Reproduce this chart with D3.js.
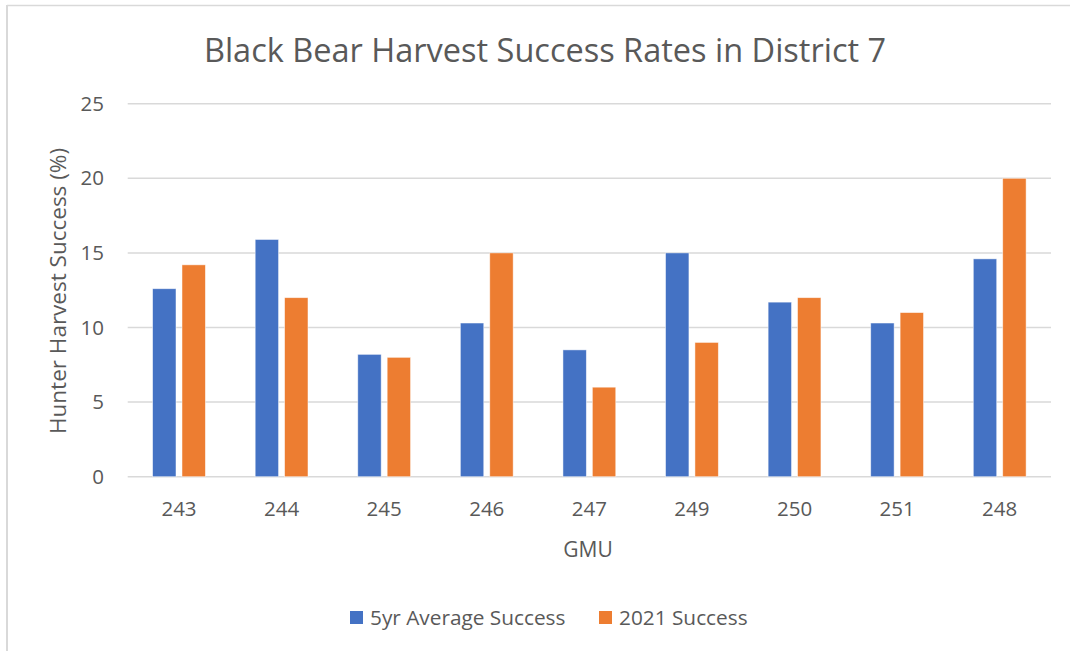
<!DOCTYPE html>
<html>
<head>
<meta charset="utf-8">
<script src="https://cdn.jsdelivr.net/npm/d3@7"></script>
<style>
  body { margin: 0; background: #fff; }
  text { font-family: "Open Sans", sans-serif; fill: #595959; }
</style>
</head>
<body>
<div id="chart"></div>
<script>
// GMU categories in the order shown
const gmus = ["243", "244", "245", "246", "247", "249", "250", "251", "248"];
const avgSuccess = [12.6, 15.9, 8.2, 10.3, 8.5, 15.0, 11.7, 10.3, 14.6];
const success2021 = [14.2, 12.0, 8.0, 15.0, 6.0, 9.0, 12.0, 11.0, 20.0];
const seriesNames = ["5yr Average Success", "2021 Success"];
const seriesColors = ["#4472C4", "#ED7D31"];
const yTicks = [0, 5, 10, 15, 20, 25];

const width = 1070, height = 651;
const margin = {top: 103.7, right: 19, bottom: 174.3, left: 127.7};

let svg = d3.select("#chart").append("svg")
    .attr("width", width)
    .attr("height", height);

// chart area border (top and left edges visible)
svg.append("line").attr("x1", 7).attr("x2", width).attr("y1", 5.5).attr("y2", 5.5)
    .attr("stroke", "#d9d9d9").attr("stroke-width", 1.5);
svg.append("line").attr("x1", 7).attr("x2", 7).attr("y1", 5).attr("y2", height)
    .attr("stroke", "#d9d9d9").attr("stroke-width", 2);

let x0 = d3.scaleBand()
    .domain(gmus)
    .range([margin.left, width - margin.right]);

let y = d3.scaleLinear()
    .domain([0, 25])
    .range([height - margin.bottom, margin.top]);

// gridlines
svg.append("g")
    .selectAll("line")
    .data(yTicks)
    .join("line")
    .attr("x1", margin.left)
    .attr("x2", width - margin.right)
    .attr("y1", d => y(d))
    .attr("y2", d => y(d))
    .attr("stroke", "#d9d9d9")
    .attr("stroke-width", 1.5);

// y tick labels
svg.append("g")
    .selectAll("text")
    .data(yTicks)
    .join("text")
    .attr("x", 104)
    .attr("y", d => y(d))
    .attr("dy", "0.35em")
    .attr("text-anchor", "end")
    .style("font-size", "20.5px")
    .text(d => d);

// bars
const barW = 23.4, gap = 6;
const series = [avgSuccess, success2021];
series.forEach((vals, s) => {
  svg.append("g")
    .selectAll("rect")
    .data(gmus)
    .join("rect")
    .attr("x", (g, i) => x0(g) + x0.bandwidth() / 2 + (s === 0 ? -gap / 2 - barW : gap / 2))
    .attr("y", (g, i) => y(series[s][i]))
    .attr("width", barW)
    .attr("height", (g, i) => y(0) - y(series[s][i]))
    .attr("fill", seriesColors[s])
    .attr("stroke", "#fff")
    .attr("stroke-opacity", 0.6)
    .attr("stroke-width", 0.8);
});

// x labels
svg.append("g")
    .selectAll("text")
    .data(gmus)
    .join("text")
    .attr("x", g => x0(g) + x0.bandwidth() / 2)
    .attr("y", 515.5)
    .attr("text-anchor", "middle")
    .style("font-size", "20.5px")
    .text(g => g);

// title
svg.append("text")
    .attr("x", 545)
    .attr("y", 62)
    .attr("text-anchor", "middle")
    .style("font-size", "32.5px")
    .text("Black Bear Harvest Success Rates in District 7");

// axis titles
svg.append("text")
    .attr("x", 588)
    .attr("y", 557)
    .attr("text-anchor", "middle")
    .style("font-size", "21px")
    .text("GMU");

svg.append("text")
    .attr("transform", "translate(66,291) rotate(-90)")
    .attr("text-anchor", "middle")
    .style("font-size", "22.5px")
    .text("Hunter Harvest Success (%)");

// legend
const legendX = [350, 599];
seriesNames.forEach((name, i) => {
  let g = svg.append("g").attr("transform", `translate(${legendX[i]},611)`);
  g.append("rect").attr("width", 13).attr("height", 13).attr("fill", seriesColors[i]);
  g.append("text").attr("x", 20).attr("y", 14)
    .style("font-size", "20.8px")
    .text(name);
});
</script>
</body>
</html>
